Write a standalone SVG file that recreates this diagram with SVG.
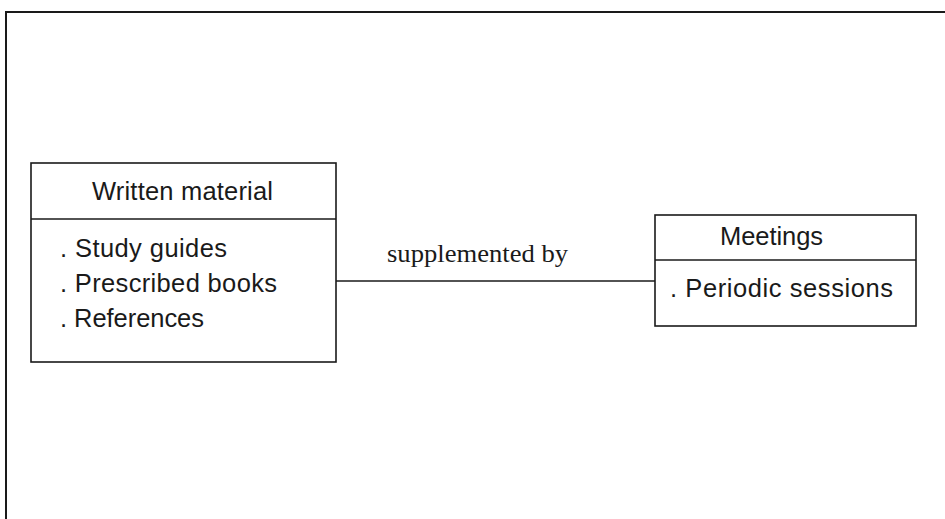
<svg xmlns="http://www.w3.org/2000/svg" width="945" height="519" viewBox="0 0 945 519">
  <style>
    .frame { fill: none; stroke: #1a1a1a; stroke-width: 2; }
    .box { fill: #ffffff; stroke: #1a1a1a; stroke-width: 1.6; }
    .rule { stroke: #1a1a1a; stroke-width: 1.6; }
    .conn { fill: none; stroke: #1a1a1a; stroke-width: 1.6; }
    .t { font-family: "Liberation Sans", Arial, sans-serif; font-size: 25.5px; fill: #1a1a1a; }
    .lbl { font-family: "Liberation Serif", "Times New Roman", serif; font-size: 26px; fill: #1a1a1a; }
  </style>
  <rect width="945" height="519" fill="#ffffff"/>

  <!-- page frame: top and left edges -->
  <path class="frame" d="M6,519 V12 H945"/>

  <!-- connectors -->
  <g id="connectors">
    <line class="conn" x1="336" y1="281" x2="655" y2="281"/>
    <text class="lbl" x="387" y="262" textLength="181" lengthAdjust="spacingAndGlyphs">supplemented by</text>
  </g>

  <!-- class box: Written material -->
  <g id="written-material">
    <rect class="box" x="31" y="163" width="305" height="199"/>
    <line class="rule" x1="31" y1="219" x2="336" y2="219"/>
    <text class="t" x="92" y="200" textLength="181">Written material</text>
    <text class="t" x="60" y="257" textLength="167">. Study guides</text>
    <text class="t" x="60" y="292" textLength="217">. Prescribed books</text>
    <text class="t" x="60" y="327" textLength="144">. References</text>
  </g>

  <!-- class box: Meetings -->
  <g id="meetings">
    <rect class="box" x="655" y="215" width="261" height="111"/>
    <line class="rule" x1="655" y1="260" x2="916" y2="260"/>
    <text class="t" x="720" y="245" textLength="103">Meetings</text>
    <text class="t" x="670" y="297" textLength="223">. Periodic sessions</text>
  </g>
</svg>
